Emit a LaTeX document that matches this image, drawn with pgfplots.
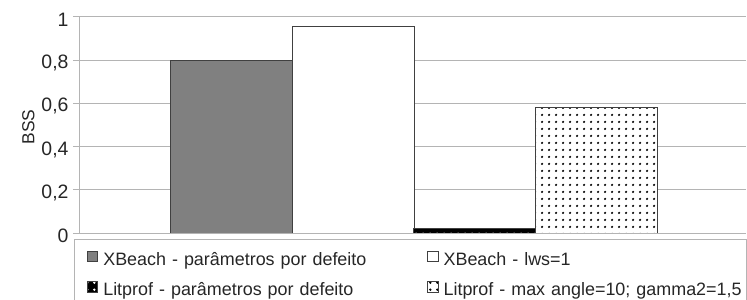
\documentclass[border=0pt]{standalone}
\usepackage{pgfplots}
\pgfplotsset{compat=1.18}
\usepackage{fontspec}
\setmainfont{Liberation Sans}
\usetikzlibrary{patterns}
\pgfdeclarepatternformonly{bigdots}{\pgfpointorigin}{\pgfpoint{7bp}{7bp}}{\pgfpoint{7bp}{7bp}}{%
  \pgfpathcircle{\pgfpoint{3.5bp}{3.5bp}}{1.4bp}\pgfusepath{fill}}
\definecolor{gridgray}{HTML}{B4B4B4}
\definecolor{barline}{HTML}{404040}
\definecolor{bargray}{HTML}{808080}
\begin{document}
\begin{tikzpicture}
\begin{axis}[
  at={(0,0)}, anchor=south west,
  scale only axis, width=666bp, height=216bp,
  xmin=0, xmax=666, ymin=0, ymax=1,
  ytick={0,0.2,0.4,0.6,0.8,1},
  xtick=\empty,
  axis y line*=left, axis x line*=bottom,
  axis line style={draw=gridgray, line width=1bp, -},
  ymajorgrids, grid style={draw=gridgray, line width=1bp},
  tick align=outside, major tick length=7bp,
  y tick style={draw=gridgray, line width=1bp},
  /pgf/number format/assume math mode=true,
  /pgf/number format/use comma,
  yticklabel style={font=\fontsize{19.5}{22}\selectfont, text=black!85, yshift=-3bp, xshift=-1bp},
  ylabel={BSS},
  every axis y label/.style={at={(ticklabel cs:0.5)}, rotate=90, anchor=south,
    font=\fontsize{17.5}{20}\selectfont, text=black!85, xshift=-2bp},
  ybar, bar shift=0pt, bar width=122,
  legend columns=2,
  legend style={draw=none, fill=none, inner sep=0pt, outer sep=0pt,
    at={(axis description cs:0.0105,-0.083)}, anchor=north west,
    nodes={inner sep=0pt, font=\fontsize{18}{22}\selectfont, text=black!85},
    row sep=14bp,
    /tikz/column 1/.style={column sep=5bp},
    /tikz/column 2/.style={column sep=24bp, text width=300bp, align=left, text height=13bp, text depth=4bp},
    /tikz/column 3/.style={column sep=5bp},
    /tikz/column 4/.style={text width=303bp, align=left, text height=13bp, text depth=4bp},
  },
  legend image code/.code={\draw[#1, line width=0.8bp] (0bp,-2bp) rectangle (10.5bp,8.5bp);},
]
\addplot[draw=barline, line width=1bp, fill=bargray] coordinates {(151,0.80)};
\addlegendentry{XBeach - parâmetros por defeito}
\addplot[draw=barline, line width=1bp, fill=white] coordinates {(273,0.955)};
\addlegendentry{XBeach - lws=1}
\addplot[draw=barline, line width=1bp, fill=black, postaction={pattern=bigdots, pattern color=white}] coordinates {(394.5,0.023)};
\addlegendentry{Litprof - parâmetros por defeito}
\addplot[draw=barline, line width=1bp, fill=white, postaction={pattern=bigdots, pattern color=black}] coordinates {(516,0.579)};
\addlegendentry{Litprof - max angle=10; gamma2=1,5}
\end{axis}
\draw[gridgray, line width=1bp] (-5bp,-6bp) rectangle (666bp,-90bp);
\pgfresetboundingbox
\path[use as bounding box] (-80bp,-67bp) rectangle (667bp,233bp);
\end{tikzpicture}
\end{document}
